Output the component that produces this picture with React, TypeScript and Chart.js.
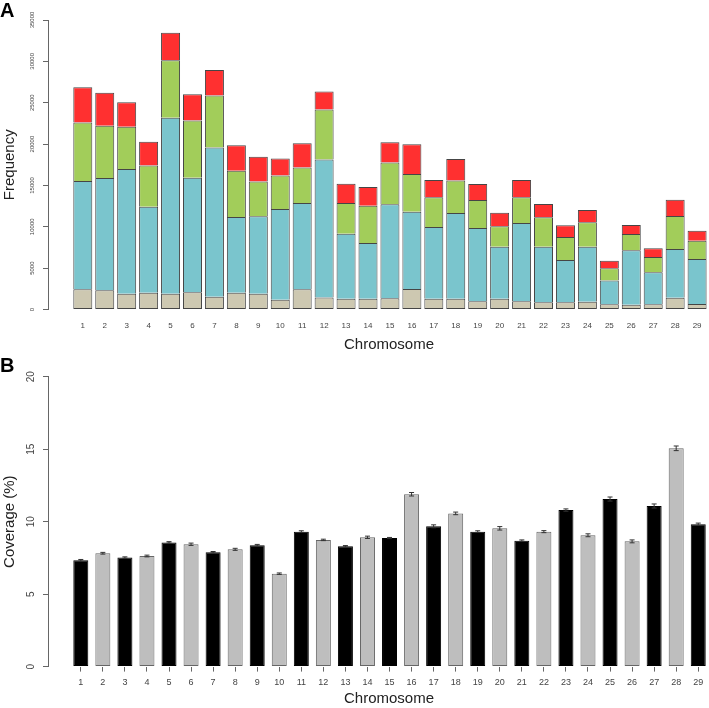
import React, { useEffect, useRef } from 'react';
import { Chart, registerables } from 'chart.js';

Chart.register(...registerables);

// ---------- data ----------
const chromosomes = [1, 2, 3, 4, 5, 6, 7, 8, 9, 10, 11, 12, 13, 14, 15, 16, 17, 18, 19, 20, 21, 22, 23, 24, 25, 26, 27, 28, 29];

// Panel A: stacked frequency segments (bottom to top)
const tanCounts = [2450, 2330, 1890, 2010, 1890, 2090, 1530, 2010, 1890, 1170, 2450, 1450, 1290, 1290, 1370, 2490, 1290, 1290, 1010, 1290, 1010, 890, 890, 930, 640, 560, 640, 1410, 680];
const blueCounts = [13080, 13560, 15090, 10420, 21280, 13840, 18060, 9170, 9370, 10980, 10420, 16690, 7880, 6760, 11340, 9340, 8690, 10380, 8850, 6310, 9450, 6710, 5100, 6670, 2860, 6600, 3870, 5910, 5430];
const greenCounts = [7080, 6320, 5110, 4990, 6960, 6920, 6280, 5590, 4230, 4060, 4300, 6040, 3700, 4500, 5070, 4540, 3580, 3940, 3380, 2460, 3100, 3540, 2780, 2940, 1490, 1970, 1850, 3980, 2210];
const redCounts = [4260, 3980, 2980, 2860, 3340, 3180, 3100, 3100, 2980, 2050, 2940, 2170, 2330, 2250, 2450, 3620, 2090, 2580, 1930, 1650, 2090, 1610, 1410, 1490, 890, 1090, 1050, 1970, 1210];

// Panel B: coverage (%) with error
const coverage = [7.33, 7.82, 7.52, 7.63, 8.57, 8.44, 7.89, 8.09, 8.37, 6.41, 9.31, 8.74, 8.30, 8.92, 8.87, 11.89, 9.68, 10.57, 9.31, 9.54, 8.69, 9.31, 10.80, 9.06, 11.56, 8.64, 11.08, 15.06, 9.82];
const coverageErr = [0.06, 0.06, 0.05, 0.06, 0.05, 0.08, 0.05, 0.07, 0.06, 0.05, 0.06, 0.05, 0.05, 0.08, 0.04, 0.12, 0.1, 0.09, 0.06, 0.12, 0.05, 0.07, 0.08, 0.1, 0.14, 0.1, 0.14, 0.16, 0.08];

const freqTicks = [0, 5000, 10000, 15000, 20000, 25000, 30000, 35000];
const coverageTicks = [0, 5, 10, 15, 20];

// ---------- styles ----------
const FONT = "'Liberation Sans', Arial, Helvetica, sans-serif";
const AXIS = '#666666';
const TICK_TEXT = '#444444';
const TITLE_TEXT = '#222222';
const SEG_BORDER = '#454545';

const errorBarPlugin = {
  id: 'errorBars',
  afterDatasetsDraw(chart: any) {
    const xs = chart.scales.x;
    const ys = chart.scales.y;
    const ctx = chart.ctx;
    ctx.save();
    ctx.strokeStyle = '#333333';
    ctx.lineWidth = 1;
    chromosomes.forEach((c, i) => {
      const px = xs.getPixelForValue(c);
      const top = ys.getPixelForValue(coverage[i] + coverageErr[i]);
      const bot = ys.getPixelForValue(coverage[i] - coverageErr[i]);
      ctx.beginPath();
      ctx.moveTo(px, top);
      ctx.lineTo(px, bot);
      ctx.moveTo(px - 2.5, top);
      ctx.lineTo(px + 2.5, top);
      ctx.moveTo(px - 2.5, bot);
      ctx.lineTo(px + 2.5, bot);
      ctx.stroke();
    });
    ctx.restore();
  },
};

function makeA(canvas: HTMLCanvasElement) {
  const seg = (label: string, values: number[], color: string, bottom: boolean) => ({
    label,
    data: chromosomes.map((c, i) => ({ x: c, y: values[i] })),
    backgroundColor: color,
    borderColor: SEG_BORDER,
    borderWidth: 1,
    borderSkipped: bottom ? false : 'start',
    barPercentage: 0.866,
    categoryPercentage: 1,
  });
  return new Chart(canvas, {
    type: 'bar',
    data: {
      datasets: [
        seg('tan', tanCounts, '#CDC8B1', true),
        seg('blue', blueCounts, '#7AC5CD', false),
        seg('green', greenCounts, '#A2CD5A', false),
        seg('red', redCounts, '#FF3030', false),
      ],
    },
    options: {
      responsive: false,
      animation: false,
      devicePixelRatio: 1,
      events: [],
      layout: { padding: 0 },
      plugins: {
        legend: { display: false },
        tooltip: { enabled: false },
        title: {
          display: true,
          text: 'A',
          align: 'start',
          color: '#000000',
          font: { family: FONT, size: 20, weight: 'bold', lineHeight: 0.9 },
          padding: { top: 2, bottom: 0 },
        },
      },
      scales: {
        x: {
          type: 'linear',
          stacked: true,
          offset: false,
          min: -0.586,
          max: 30.5,
          afterBuildTicks: (s: any) => {
            s.ticks = chromosomes.map((v) => ({ value: v }));
          },
          afterFit: (s: any) => {
            s.height = 45.5;
          },
          grid: { display: false, drawTicks: false, offset: false },
          border: { display: false },
          ticks: {
            autoSkip: false,
            maxRotation: 0,
            minRotation: 0,
            padding: 11.7,
            color: TICK_TEXT,
            font: { family: FONT, size: 8 },
            callback: (v: any) => String(v),
          },
          title: {
            display: true,
            text: 'Chromosome',
            color: TITLE_TEXT,
            font: { family: FONT, size: 15 },
            padding: { top: 0, bottom: 1 },
          },
        },
        y: {
          type: 'linear',
          stacked: true,
          min: 0,
          max: 35000,
          afterBuildTicks: (s: any) => {
            s.ticks = freqTicks.map((v) => ({ value: v }));
          },
          afterFit: (s: any) => {
            s.width = 48;
          },
          grid: { drawOnChartArea: false, drawTicks: true, tickLength: 5, color: AXIS },
          border: { display: true, color: AXIS },
          ticks: {
            minRotation: 90,
            maxRotation: 90,
            crossAlign: 'center',
            padding: 2.7,
            color: TICK_TEXT,
            font: { family: FONT, size: 6 },
            callback: (v: any) => String(v),
          },
          title: {
            display: true,
            text: 'Frequency',
            color: TITLE_TEXT,
            font: { family: FONT, size: 15 },
            padding: { top: 1, bottom: 0 },
          },
        },
      },
    } as any,
  });
}

function makeB(canvas: HTMLCanvasElement) {
  return new Chart(canvas, {
    type: 'bar',
    data: {
      datasets: [
        {
          label: 'Coverage',
          data: chromosomes.map((c, i) => ({ x: c, y: coverage[i] })),
          backgroundColor: (ctx: any) => (ctx.dataIndex % 2 === 0 ? '#000000' : '#BEBEBE'),
          borderColor: (ctx: any) => (ctx.dataIndex % 2 === 0 ? '#000000' : '#666666'),
          borderWidth: 1,
          borderSkipped: false,
          barPercentage: 0.68,
          categoryPercentage: 1,
        },
      ],
    },
    plugins: [errorBarPlugin],
    options: {
      responsive: false,
      animation: false,
      devicePixelRatio: 1,
      events: [],
      layout: { padding: 0 },
      plugins: {
        legend: { display: false },
        tooltip: { enabled: false },
        title: {
          display: true,
          text: 'B',
          align: 'start',
          color: '#000000',
          font: { family: FONT, size: 20, weight: 'bold', lineHeight: 1 },
          padding: { top: 1.7, bottom: 0 },
        },
      },
      scales: {
        x: {
          type: 'linear',
          offset: false,
          min: -0.4875,
          max: 30.44,
          afterBuildTicks: (s: any) => {
            s.ticks = chromosomes.map((v) => ({ value: v }));
          },
          afterFit: (s: any) => {
            s.height = 41.4;
          },
          grid: { display: true, offset: false, drawOnChartArea: false, drawTicks: true, tickLength: 5, color: AXIS },
          border: { display: false },
          ticks: {
            autoSkip: false,
            maxRotation: 0,
            minRotation: 0,
            padding: 6,
            color: TICK_TEXT,
            font: { family: FONT, size: 9 },
            callback: (v: any) => String(v),
          },
          title: {
            display: true,
            text: 'Chromosome',
            color: TITLE_TEXT,
            font: { family: FONT, size: 15 },
            padding: { top: 0, bottom: 0 },
          },
        },
        y: {
          type: 'linear',
          min: 0,
          max: 20,
          afterBuildTicks: (s: any) => {
            s.ticks = coverageTicks.map((v) => ({ value: v }));
          },
          afterFit: (s: any) => {
            s.width = 48;
          },
          grid: { drawOnChartArea: false, drawTicks: true, tickLength: 5, color: AXIS },
          border: { display: true, color: AXIS },
          ticks: {
            minRotation: 90,
            maxRotation: 90,
            crossAlign: 'center',
            padding: 6.4,
            color: TICK_TEXT,
            font: { family: FONT, size: 10 },
            callback: (v: any) => String(v),
          },
          title: {
            display: true,
            text: 'Coverage (%)',
            color: TITLE_TEXT,
            font: { family: FONT, size: 15 },
            padding: { top: 1, bottom: 0 },
          },
        },
      },
    } as any,
  });
}

export default function App() {
  const refA = useRef<HTMLCanvasElement | null>(null);
  const refB = useRef<HTMLCanvasElement | null>(null);

  useEffect(() => {
    const a = refA.current ? makeA(refA.current) : null;
    const b = refB.current ? makeB(refB.current) : null;
    return () => {
      a?.destroy();
      b?.destroy();
    };
  }, []);

  return (
    <div
      style={{
        position: 'fixed',
        left: 0,
        top: 0,
        width: 709,
        height: 708,
        overflow: 'hidden',
        background: '#ffffff',
      }}
    >
      <canvas
        ref={refA}
        width={730}
        height={355}
        style={{ position: 'absolute', left: 0, top: 0, width: 730, height: 355 }}
      />
      <canvas
        ref={refB}
        width={730}
        height={353}
        style={{ position: 'absolute', left: 0, top: 355, width: 730, height: 353 }}
      />
    </div>
  );
}
